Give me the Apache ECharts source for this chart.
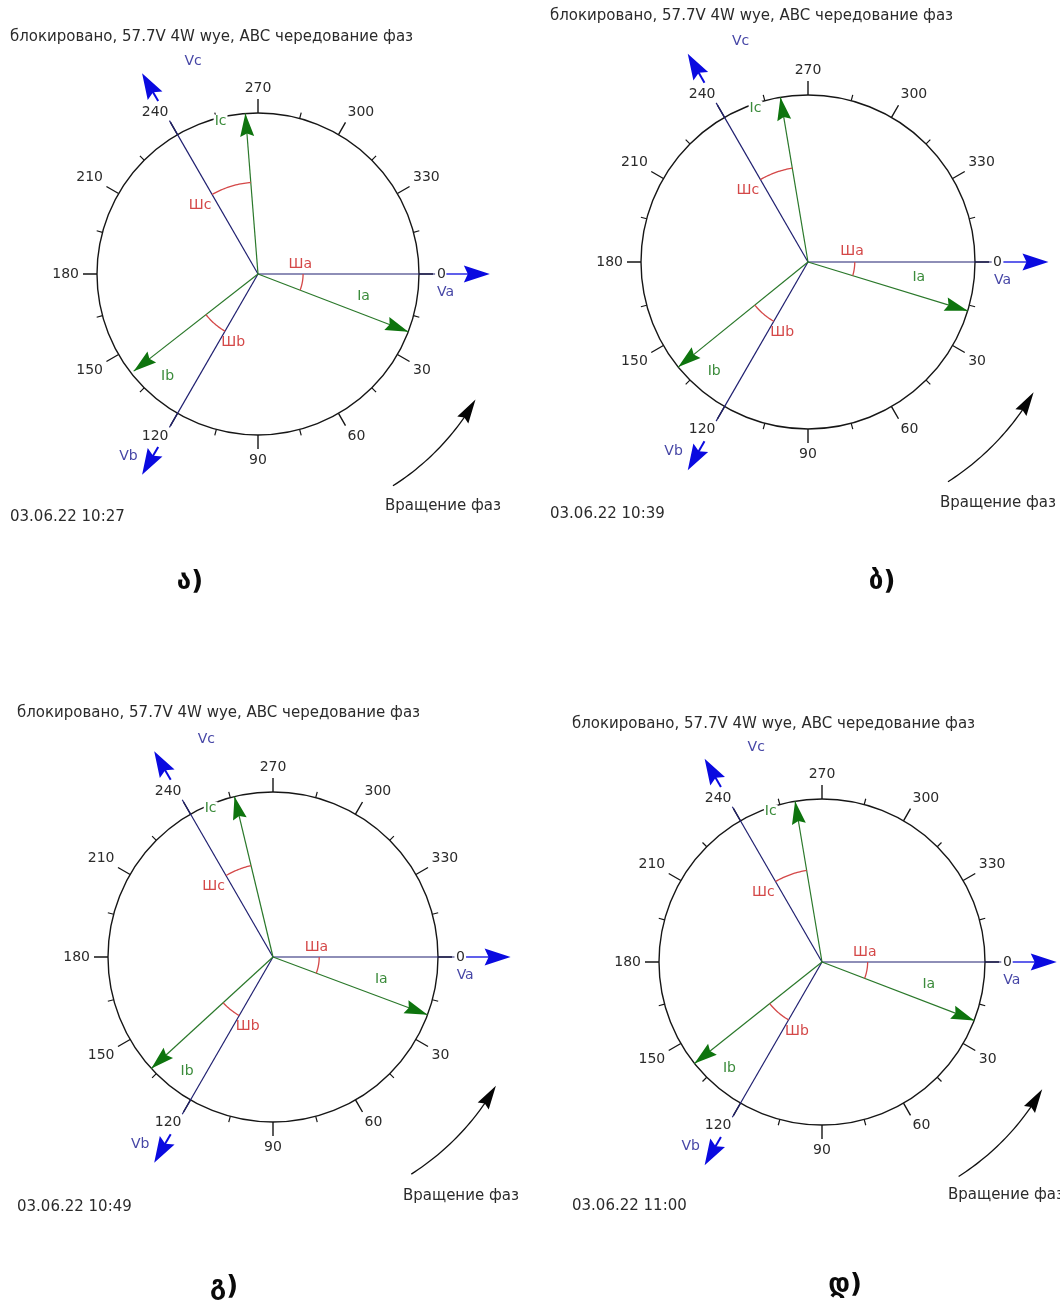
<!DOCTYPE html>
<html>
<head>
<meta charset="utf-8">
<script src="https://cdn.jsdelivr.net/npm/echarts@6/dist/echarts.min.js"></script>
<style>
  html, body { margin: 0; padding: 0; background: #ffffff; }
  #chart { width: 1060px; height: 1304px; }
</style>
</head>
<body>
<div id="chart"></div>
<script>
// Panel captions and measurement timestamps
const panelCaptions = ['ა)', 'ბ)', 'გ)', 'დ)'];
const timestamps = ['03.06.22 10:27', '03.06.22 10:39', '03.06.22 10:49', '03.06.22 11:00'];
const headerText = 'блокировано, 57.7V 4W wye, ABC чередование фаз';
const rotationText = 'Вращение фаз';

// Dial tick labels (every 30 degrees)
const dialLabels = ['0', '30', '60', '90', '120', '150', '180', '210', '240', '270', '300', '330'];

// Voltage phasor angles, degrees
const vaAngle = [0, 0, 0, 0];
const vbAngle = [120, 120, 120, 120];
const vcAngle = [240, 240, 240, 240];

// Current phasor angles, degrees
const iaAngle = [21, 17, 20.5, 21];
const ibAngle = [142, 141, 137.5, 141.5];
const icAngle = [265.5, 260.5, 256.5, 260.5];

// Current magnitudes relative to the dial radius
const iaMag = [1, 1, 1, 1];
const ibMag = [0.98, 1, 1, 1];
const icMag = [1, 1, 1, 1];

const voltageNames = ['Va', 'Vb', 'Vc'];
const currentNames = ['Ia', 'Ib', 'Ic'];
const shiftNames = ['Шa', 'Шb', 'Шc'];

// Panel placement on the page
const panels = [
  { cx: 258, cy: 274, r: 161, title: [10, 37], date: [10, 517], rot: [385, 506], cap: [190, 582] },
  { cx: 808, cy: 262, r: 167, title: [550, 16], date: [550, 514], rot: [940, 503], cap: [882, 582] },
  { cx: 273, cy: 957, r: 165, title: [17, 713], date: [17, 1207], rot: [403, 1196], cap: [224, 1287] },
  { cx: 822, cy: 962, r: 163, title: [572, 724], date: [572, 1206], rot: [948, 1195], cap: [845, 1285] }
];

const FONT = "'DejaVu Sans', Verdana, sans-serif";
const C_VLINE = '#1f1f70';
const C_VHEAD = '#0a0ae0';
const C_VTEXT = '#4646a6';
const C_ILINE = '#2a782a';
const C_IHEAD = '#0e740e';
const C_ITEXT = '#3b8b3b';
const C_SHIFT = '#d44848';
const C_DIAL = '#161616';
const C_TEXT = '#2b2b2b';

// Filled arrow head pointing at tip, coming from the direction of `from`
function dart(tip, from, len, width, notch) {
  const dx = tip[0] - from[0], dy = tip[1] - from[1];
  const d = Math.hypot(dx, dy) || 1;
  const ux = dx / d, uy = dy / d, nx = -uy, ny = ux;
  const bx = tip[0] - ux * len, by = tip[1] - uy * len;
  return [
    [tip[0], tip[1]],
    [bx + nx * width / 2, by + ny * width / 2],
    [bx + ux * notch, by + uy * notch],
    [bx - nx * width / 2, by - ny * width / 2]
  ];
}

function seg(a, b, color, w) {
  return { type: 'line', shape: { x1: a[0], y1: a[1], x2: b[0], y2: b[1] },
           style: { stroke: color, lineWidth: w || 1 } };
}

function label(p, text, color, size, bg) {
  const style = { text: text, fill: color, font: size + 'px ' + FONT,
                  align: 'center', verticalAlign: 'middle',
                  textAlign: 'center', textVerticalAlign: 'middle' };
  if (bg) { style.backgroundColor = '#ffffff'; style.padding = [0, 1]; }
  return { type: 'text', x: p[0], y: p[1], style: style, z2: 10 };
}

function plainText(pos, text, size, align, weight, color) {
  return { type: 'text', x: pos[0], y: pos[1],
    style: { text: text, fill: color || C_TEXT, font: (weight || 'normal') + ' ' + size + 'px ' + FONT,
             align: align, verticalAlign: 'middle', textAlign: align, textVerticalAlign: 'middle' } };
}

const polar = [], angleAxis = [], radiusAxis = [], series = [], graphics = [];

panels.forEach(function (pn, i) {
  polar.push({ center: [pn.cx, pn.cy], radius: pn.r });

  angleAxis.push({
    polarIndex: i, type: 'value', min: 0, max: 360, interval: 30,
    startAngle: 0, clockwise: true,
    axisLine: { show: true, lineStyle: { color: C_DIAL, width: 1.4 } },
    axisTick: { show: true, length: 14, lineStyle: { color: C_DIAL, width: 1.4 } },
    minorTick: { show: true, splitNumber: 2, length: 6, lineStyle: { color: C_DIAL, width: 1.2 } },
    axisLabel: {
      show: true, margin: 18, color: C_TEXT, fontSize: 14, fontFamily: FONT,
      formatter: function (v) { const k = Math.round(v / 30); return k < dialLabels.length ? dialLabels[k] : ''; }
    },
    splitLine: { show: false }, minorSplitLine: { show: false }, splitArea: { show: false }
  });

  radiusAxis.push({
    polarIndex: i, type: 'value', min: 0, max: 1, show: false,
    axisLine: { show: false }, axisTick: { show: false }, axisLabel: { show: false },
    splitLine: { show: false }
  });

  // Voltage phasors
  series.push({
    type: 'custom', coordinateSystem: 'polar', polarIndex: i, silent: true, z: 3,
    data: [[1, vaAngle[i]], [1, vbAngle[i]], [1, vcAngle[i]]],
    renderItem: function (params, api) {
      const ang = api.value(1);
      const k = params.dataIndex;
      const o = api.coord([0, ang]);
      const end = api.coord([1.1, ang]);
      const tip = api.coord([1.44, ang]);
      const children = [seg(o, end, C_VLINE, 1.2)];
      if (k === 0) {
        children.push(seg(api.coord([1.17, ang]), api.coord([1.32, ang]), C_VHEAD, 1.3));
      } else {
        children.push(seg(api.coord([1.24, ang]), api.coord([1.32, ang]), C_VHEAD, 2));
      }
      children.push({ type: 'polygon', shape: { points: dart(tip, o, 26, 17, 4) }, style: { fill: C_VHEAD } });
      const off = [5.5, 5.4, 13][k];
      const rr = [1.17, 1.39, 1.38][k];
      children.push(label(api.coord([rr, ang + off]), voltageNames[k], C_VTEXT, 14, false));
      return { type: 'group', children: children };
    }
  });

  // Current phasors
  series.push({
    type: 'custom', coordinateSystem: 'polar', polarIndex: i, silent: true, z: 4,
    data: [[iaMag[i], iaAngle[i]], [ibMag[i], ibAngle[i]], [icMag[i], icAngle[i]]],
    renderItem: function (params, api) {
      const mag = api.value(0), ang = api.value(1);
      const k = params.dataIndex;
      const o = api.coord([0, ang]);
      const tip = api.coord([mag, ang]);
      const off = [-9, -10.5, -9.3][k];
      const rr = [0.67, 0.865, 0.975][k];
      return { type: 'group', children: [
        seg(o, tip, C_ILINE, 1.2),
        { type: 'polygon', shape: { points: dart(tip, o, 23, 14, 3) }, style: { fill: C_IHEAD } },
        label(api.coord([rr * mag, ang + off]), currentNames[k], C_ITEXT, 14, true)
      ] };
    }
  });

  // Phase-shift arcs between each voltage and its current
  series.push({
    type: 'custom', coordinateSystem: 'polar', polarIndex: i, silent: true, z: 5,
    data: [[vaAngle[i], iaAngle[i]], [vbAngle[i], ibAngle[i]], [vcAngle[i], icAngle[i]]],
    renderItem: function (params, api) {
      const a0 = api.value(0), a1 = api.value(1);
      const k = params.dataIndex;
      const rad = [0.28, 0.41, 0.57][k];
      const pts = [];
      const n = 24;
      for (let s = 0; s <= n; s++) pts.push(api.coord([rad, a0 + (a1 - a0) * s / n]));
      const lr = [0.27, 0.45, 0.56][k];
      const la = [-13, -10, -10][k];
      return { type: 'group', children: [
        { type: 'polyline', shape: { points: pts }, style: { stroke: C_SHIFT, lineWidth: 1.3, fill: null } },
        label(api.coord([lr, a0 + la]), shiftNames[k], C_SHIFT, 14, false)
      ] };
    }
  });

  // Phase rotation indicator
  series.push({
    type: 'custom', coordinateSystem: 'polar', polarIndex: i, silent: true, z: 3,
    data: [[1.56, 30]],
    renderItem: function (params, api) {
      const rad = api.value(0), endAng = api.value(1);
      const startAng = 57.5;
      const pts = [];
      const n = 30;
      for (let s = 0; s <= n; s++) pts.push(api.coord([rad, startAng + (endAng - startAng) * s / n]));
      const tip = pts[n];
      const prev = api.coord([rad, endAng + 4]);
      return { type: 'group', children: [
        { type: 'polyline', shape: { points: pts.slice(0, n - 2) }, style: { stroke: '#111111', lineWidth: 1.3, fill: null } },
        { type: 'polygon', shape: { points: dart(tip, prev, 24, 13, 3) }, style: { fill: '#050505' } }
      ] };
    }
  });

  graphics.push(
    plainText(pn.title, headerText, 15, 'left'),
    plainText(pn.date, timestamps[i], 15, 'left'),
    plainText(pn.rot, rotationText, 15, 'left'),
    plainText(pn.cap, panelCaptions[i], 26, 'center', 'bold', '#0a0a0a')
  );
});

const chart = echarts.init(document.getElementById('chart'), null, { renderer: 'canvas' });
chart.setOption({
  backgroundColor: '#ffffff',
  animation: false,
  polar: polar,
  angleAxis: angleAxis,
  radiusAxis: radiusAxis,
  series: series,
  graphic: { elements: graphics }
});
</script>
</body>
</html>
